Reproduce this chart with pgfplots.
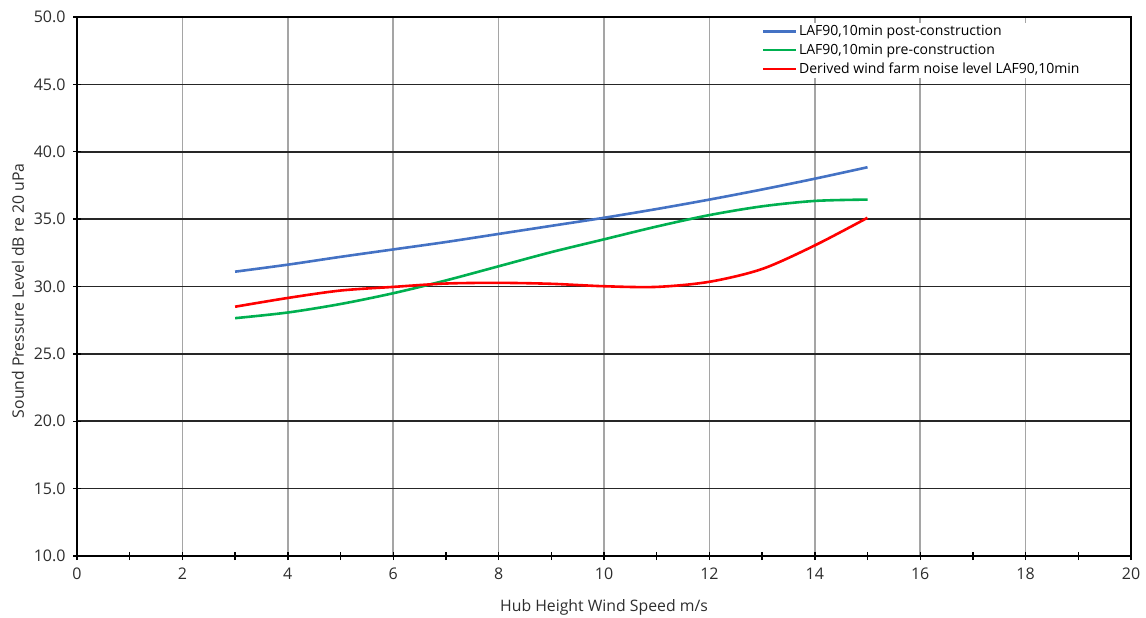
\documentclass[border=0pt]{standalone}
\usepackage{pgfplots}
\pgfplotsset{compat=1.18}
\usepackage{fontspec}
\setmainfont{Open Sans}
\definecolor{cblue}{RGB}{68,114,196}
\definecolor{cgreen}{RGB}{0,176,80}
\definecolor{cred}{RGB}{255,0,0}
\definecolor{cgrid}{RGB}{165,165,165}
\definecolor{ctext}{RGB}{45,45,45}
\newcommand{\tfont}{\fontsize{16}{18}\selectfont}
\begin{document}
\begin{tikzpicture}
\begin{axis}[
  scale only axis,
  width=1054pt, height=539pt,
  xmin=0, xmax=20, ymin=10, ymax=50,
  xtick={0,2,...,20}, minor x tick num=1,
  ytick={10,15,...,50},
  xtick pos=bottom, ytick pos=left,
  xmajorgrids, ymajorgrids,
  x grid style={cgrid, line width=1.6pt},
  y grid style={black!85, line width=1.6pt},
  axis line style={black, line width=1.6pt},
  tick align=center,
  major tick length=8pt, minor tick length=8pt,
  tick style={black, line width=1.4pt},
  /pgf/number format/assume math mode=true,
  xticklabel={\tfont\pgfmathprintnumber[fixed,precision=0]{\tick}},
  yticklabel={\tfont\pgfmathprintnumber[fixed,fixed zerofill,precision=1]{\tick}},
  xticklabel style={text=ctext, yshift=-4pt},
  yticklabel style={text=ctext, xshift=-4pt},
  xlabel={Hub Height Wind Speed m/s},
  ylabel={Sound Pressure Level dB re 20 uPa},
  label style={font=\fontsize{15.8}{18}\selectfont, text=ctext},
  xlabel style={at={(axis description cs:0.5,-0.0946)}, anchor=center},
  ylabel style={at={(axis description cs:-0.0560,0.492)}, anchor=center},
  legend style={at={(0.6485,0.99)}, anchor=north west, draw=none, fill=white,
    font=\fontsize{14}{16}\selectfont, row sep=2.8pt, inner sep=1pt,
    /tikz/every even column/.append style={column sep=1pt}},
  legend cell align=left,
  legend image code/.code={\draw[#1, line width=2.6pt] (0cm,0cm) -- (1.15cm,0cm);},
]
\addplot[cblue, line width=2.6pt, smooth, tension=0.5] coordinates {
(3,31.1) (4,31.62) (5,32.2) (6,32.75) (7,33.3) (8,33.9) (9,34.5) (10,35.1) (11,35.75) (12,36.45) (13,37.2) (14,38.0) (15,38.85)};
\addlegendentry{LAF90,10min post-construction}
\addplot[cgreen, line width=2.6pt, smooth, tension=0.5] coordinates {
(3,27.65) (4,28.07) (5,28.7) (6,29.5) (7,30.45) (8,31.5) (9,32.55) (10,33.5) (11,34.45) (12,35.3) (13,35.95) (14,36.35) (15,36.45)};
\addlegendentry{LAF90,10min pre-construction}
\addplot[cred, line width=2.6pt, smooth, tension=0.5] coordinates {
(3,28.5) (4,29.15) (5,29.7) (6,29.97) (7,30.22) (8,30.27) (9,30.2) (10,30.02) (11,29.97) (12,30.35) (13,31.3) (14,33.05) (15,35.1)};
\addlegendentry{Derived wind farm noise level LAF90,10min}
\end{axis}
\pgfresetboundingbox
\path (current axis.south west) ++(-77pt,-61pt) coordinate (bl);
\path (current axis.north east) ++(15pt,17pt) coordinate (tr);
\path[use as bounding box] (bl) rectangle (tr);
\end{tikzpicture}
\end{document}
